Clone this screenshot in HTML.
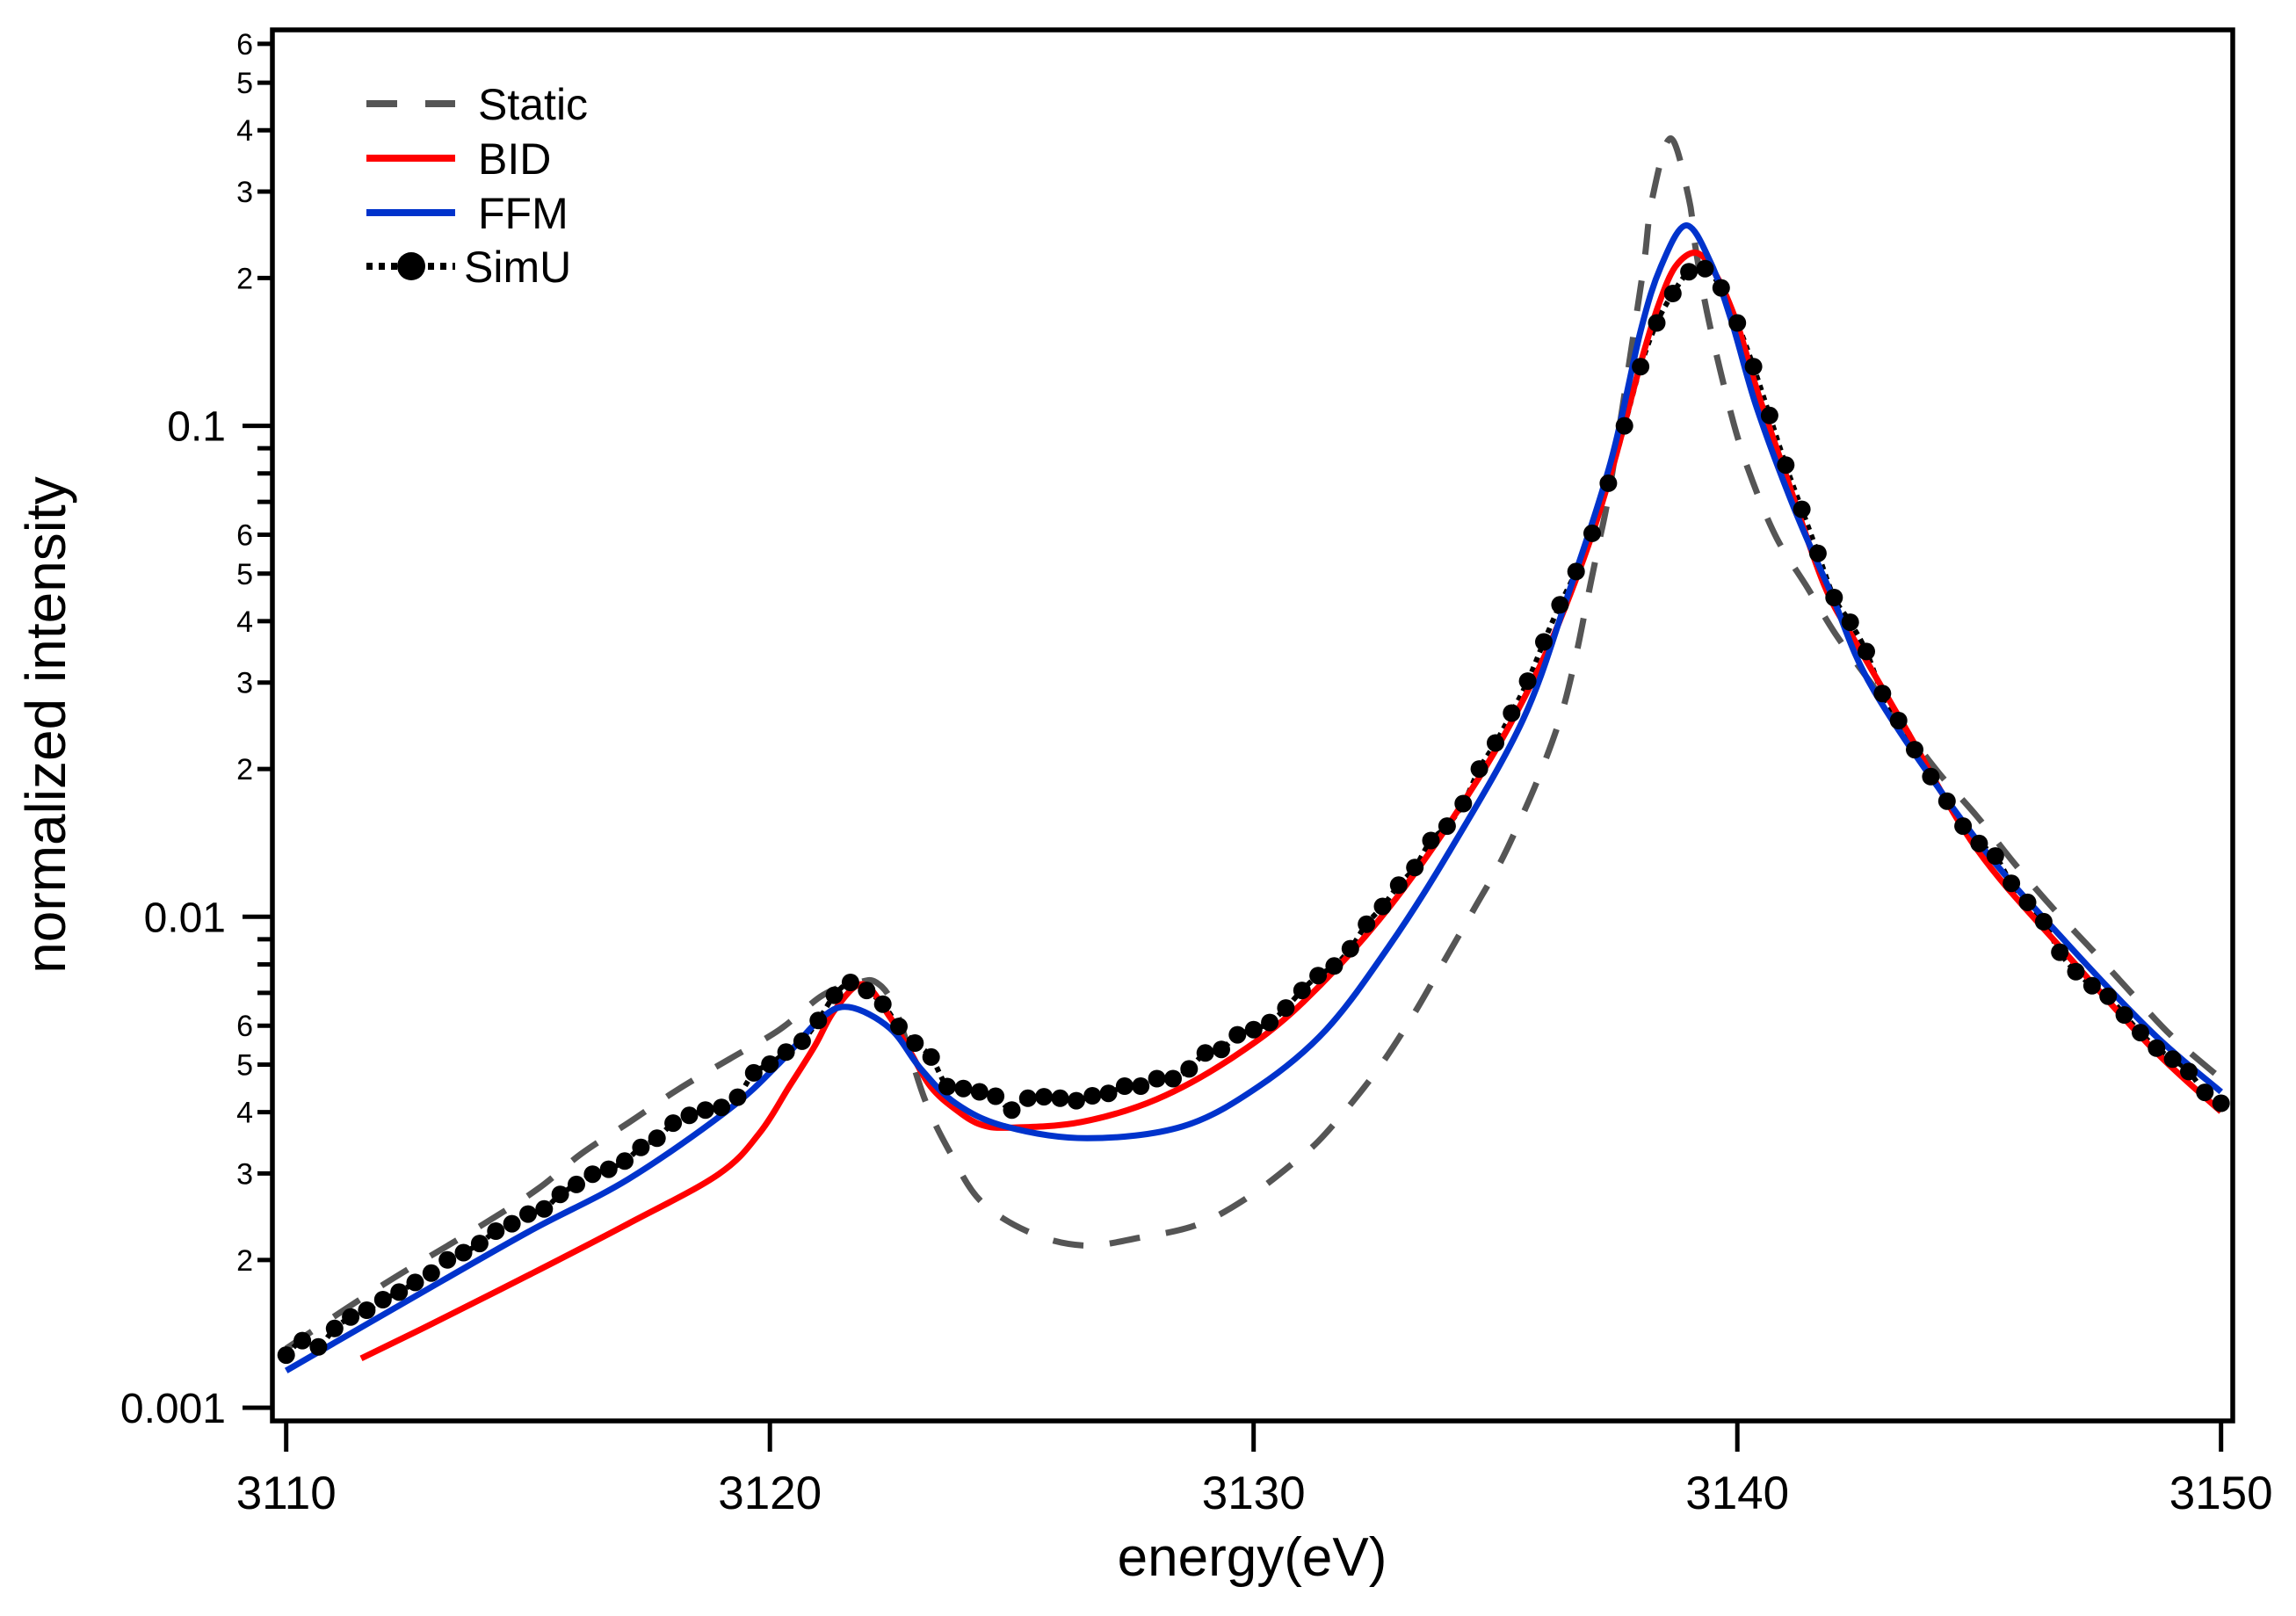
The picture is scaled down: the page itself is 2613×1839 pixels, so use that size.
<!DOCTYPE html>
<html>
<head>
<meta charset="utf-8">
<style>
  html, body { margin: 0; padding: 0; background: #fff; }
  svg { display: block; font-family: "Liberation Sans", sans-serif; }
</style>
</head>
<body>
<svg id="chart" width="2613" height="1839" viewBox="0 0 2613 1839">
  <g id="plot-layer"></g>
  <g id="axis-layer"></g>
  <text x="1425" y="1793" font-size="62" text-anchor="middle" fill="#000">energy(eV)</text>
  <text transform="translate(74,825) rotate(-90)" font-size="64" text-anchor="middle" fill="#000">normalized intensity</text>
  <g id="legend">
    <g>
      <line x1="417" y1="118" x2="518" y2="118" stroke="#555" stroke-width="8" stroke-dasharray="35 32"/>
      <text x="544" y="136" font-size="50">Static</text>
    </g>
    <g>
      <line x1="417" y1="180" x2="518" y2="180" stroke="#ff0000" stroke-width="8"/>
      <text x="544" y="198" font-size="50">BID</text>
    </g>
    <g>
      <line x1="417" y1="242" x2="518" y2="242" stroke="#0033cc" stroke-width="8"/>
      <text x="544" y="260" font-size="50">FFM</text>
    </g>
    <g>
      <line x1="417" y1="303" x2="518" y2="303" stroke="#000" stroke-width="8" stroke-dasharray="7 7"/>
      <circle cx="468" cy="303" r="16" fill="#000"/>
      <text x="528" y="321" font-size="50">SimU</text>
    </g>
  </g>
</svg>
<script>
// ---- data ----
const xTickValues = [3110, 3120, 3130, 3140, 3150];
const yMajorValues = [0.001, 0.01, 0.1];
const yMajorLabels = ["0.001", "0.01", "0.1"];
const yMinorMultipliers = [2, 3, 4, 5, 6, 7, 8, 9];
const yMinorLabeled = [2, 3, 4, 5, 6];

const simuStart = 3110;
const simuStep = 1 / 3;
const simuValues = [
  0.00128,0.00137,0.00133,0.00145,0.00153,0.00158,0.00166,0.00172,0.00180,0.00188,
  0.00200,0.00207,0.00216,0.00229,0.00237,0.00248,0.00254,0.00272,0.00285,0.00299,
  0.00306,0.00318,0.00339,0.00354,0.00380,0.00394,0.00404,0.00409,0.00429,0.00481,
  0.00501,0.00530,0.00558,0.00615,0.00692,0.00735,0.00708,0.00664,0.00598,0.00553,
  0.00518,0.00451,0.00447,0.00440,0.00431,0.00404,0.00427,0.00430,0.00427,0.00422,
  0.00432,0.00437,0.00452,0.00452,0.00468,0.00468,0.00490,0.00528,0.00537,0.00575,
  0.00589,0.00609,0.00652,0.00708,0.00759,0.00794,0.00861,0.00966,0.0105,0.0116,
  0.0126,0.0143,0.0153,0.0170,0.0200,0.0226,0.0260,0.0302,0.0363,0.0432,
  0.0505,0.0604,0.0764,0.100,0.132,0.162,0.186,0.206,0.209,0.191,
  0.162,0.132,0.105,0.0832,0.0676,0.0550,0.0447,0.0398,0.0347,0.0285,
  0.0251,0.0219,0.0193,0.0172,0.0153,0.0141,0.0133,0.0117,0.0107,0.00977,
  0.00847,0.00773,0.00724,0.00689,0.00631,0.00581,0.00540,0.00513,0.00484,0.00439,
  0.00417
];

const bidEnergy = [3111.55,3113,3115,3117.07,3118.94,3119.78,3120.4,3120.93,3121.34,3121.92,3122.48,3122.9,3123.32,3123.84,3124.37,3125.0,3126.44,3128.0,3129.58,3131.03,3132.85,3134.66,3135.88,3136.78,3137.38,3138.0,3138.36,3138.72,3139.16,3139.57,3140.0,3140.41,3141.0,3141.8,3142.5,3143.5,3144.96,3146.78,3148.6,3150];
const bidValues = [0.00126,0.00148,0.00186,0.00237,0.00299,0.00362,0.00451,0.00546,0.00646,0.00729,0.00625,0.00531,0.00451,0.00405,0.00377,0.00372,0.00382,0.00425,0.00518,0.00671,0.0106,0.0192,0.0318,0.0522,0.0796,0.134,0.175,0.211,0.225,0.202,0.161,0.118,0.0796,0.0473,0.0355,0.0240,0.0137,0.00845,0.00537,0.00401];

const ffmEnergy = [3110,3112.5,3115,3117.07,3119.15,3120.2,3121.03,3121.63,3122.48,3123.12,3123.84,3124.87,3126.56,3128.53,3130.1,3131.5,3132.8,3134.05,3135.56,3136.47,3137.38,3138.0,3138.42,3138.94,3139.45,3139.9,3140.4,3141.17,3141.93,3142.84,3144.96,3146.78,3148.6,3150];
const ffmValues = [0.00119,0.00165,0.00228,0.00292,0.00405,0.00504,0.00618,0.00655,0.00593,0.00490,0.00417,0.00374,0.00354,0.00374,0.00451,0.00589,0.00871,0.0136,0.0251,0.0444,0.0843,0.156,0.211,0.256,0.215,0.161,0.109,0.0681,0.0458,0.0287,0.0143,0.00891,0.00578,0.00440];

const staticEnergy = [3110,3112,3114,3115.2,3116.1,3117.1,3118.1,3119.16,3120.2,3121.1,3121.8,3122.2,3122.6,3123.2,3123.74,3124.37,3125.4,3126.5,3127.64,3128.84,3129.9,3130.9,3131.5,3132.5,3133.3,3134.0,3134.55,3135.1,3135.57,3135.97,3136.37,3136.66,3136.9,3137.14,3137.38,3137.93,3138.09,3138.24,3138.62,3139.0,3139.14,3139.42,3139.93,3140.32,3140.82,3141.45,3142.02,3142.66,3143.5,3144.19,3144.96,3145.74,3146.53,3147.35,3148.16,3149.0,3150];
const staticValues = [0.00132,0.00178,0.00234,0.00279,0.00329,0.00382,0.00445,0.00513,0.00589,0.00693,0.00733,0.00735,0.00646,0.00425,0.00329,0.00263,0.00227,0.00214,0.00222,0.00236,0.00269,0.00320,0.00363,0.00479,0.00631,0.00832,0.01035,0.0129,0.0162,0.0201,0.0260,0.0339,0.0443,0.0579,0.0764,0.172,0.222,0.290,0.385,0.290,0.229,0.162,0.1007,0.0769,0.0589,0.0468,0.0378,0.0309,0.0239,0.0195,0.0160,0.0128,0.0104,0.00853,0.00697,0.00569,0.00468];

// ---- scales ----
const X0 = 325.7, XPER = 55.05;          // px per eV
const Y01 = 484.6, YDEC = 558.7;         // y of 0.1, px per decade
function xs(e) { return X0 + (e - 3110) * XPER; }
function ys(v) { return Y01 - (Math.log10(v) + 1) * YDEC; }

const NS = "http://www.w3.org/2000/svg";
function mk(tag, attrs, parent) {
  const el = document.createElementNS(NS, tag);
  for (const k in attrs) el.setAttribute(k, attrs[k]);
  parent.appendChild(el);
  return el;
}
function smoothPath(pts) {
  let d = "M" + pts[0][0].toFixed(1) + "," + pts[0][1].toFixed(1);
  for (let i = 0; i < pts.length - 1; i++) {
    const p0 = pts[Math.max(0, i - 1)], p1 = pts[i], p2 = pts[i + 1], p3 = pts[Math.min(pts.length - 1, i + 2)];
    const c1x = p1[0] + (p2[0] - p0[0]) / 6, c1y = p1[1] + (p2[1] - p0[1]) / 6;
    const c2x = p2[0] - (p3[0] - p1[0]) / 6, c2y = p2[1] - (p3[1] - p1[1]) / 6;
    d += " C" + c1x.toFixed(1) + "," + c1y.toFixed(1) + " " + c2x.toFixed(1) + "," + c2y.toFixed(1) + " " + p2[0].toFixed(1) + "," + p2[1].toFixed(1);
  }
  return d;
}

const svg = document.getElementById("chart");
const plot = document.getElementById("plot-layer");
const axisG = document.getElementById("axis-layer");

const defs = mk("defs", {}, svg);
const cp = mk("clipPath", { id: "clip" }, defs);
mk("rect", { x: 310, y: 34, width: 2231, height: 1583 }, cp);
plot.setAttribute("clip-path", "url(#clip)");

// static
const sp = staticEnergy.map((e, i) => [xs(e), ys(staticValues[i])]);
const staticLine = mk("path", { d: smoothPath(sp), fill: "none", stroke: "#555", "stroke-width": 7, "stroke-dasharray": "35 30" }, plot);



// SimU dotted connector
const su = simuValues.map((v, i) => [xs(simuStart + i * simuStep), ys(v)]);
const simuLine = mk("path", { d: smoothPath(su), fill: "none", stroke: "#000", "stroke-width": 6, "stroke-dasharray": "6 6" }, plot);



// BID
const bp = bidEnergy.map((e, i) => [xs(e), ys(bidValues[i])]);
const bidLine = mk("path", { d: smoothPath(bp), fill: "none", stroke: "#ff0000", "stroke-width": 7 }, plot);



// FFM
const fp = ffmEnergy.map((e, i) => [xs(e), ys(ffmValues[i])]);
const ffmLine = mk("path", { d: smoothPath(fp), fill: "none", stroke: "#0033cc", "stroke-width": 7 }, plot);



// SimU markers
simuValues.forEach((v, i) => {
  const c = mk("circle", { cx: xs(simuStart + i * simuStep).toFixed(1), cy: ys(v).toFixed(1), r: 10, fill: "#000" }, plot);
  
  
});

// frame
const frame = mk("rect", { x: 310, y: 34, width: 2231, height: 1583, fill: "none", stroke: "#000", "stroke-width": 5.5 }, axisG);



// x ticks
xTickValues.forEach(v => {
  const x = xs(v);
  const t = mk("line", { x1: x, y1: 1617, x2: x, y2: 1652, stroke: "#000", "stroke-width": 5 }, axisG);
  
  
  const lb = mk("text", { x: x, y: 1717, "font-size": 53, "text-anchor": "middle", fill: "#000" }, axisG);
  lb.textContent = String(v);
  
  
});

// y ticks
const yTop = 34;
yMajorValues.forEach((v, i) => {
  const y = ys(v);
  const t = mk("line", { x1: 276, y1: y, x2: 310, y2: y, stroke: "#000", "stroke-width": 5 }, axisG);
  
  
  const lb = mk("text", { x: 257, y: y + 17, "font-size": 48, "text-anchor": "end", fill: "#000" }, axisG);
  lb.textContent = yMajorLabels[i];
  
  
  yMinorMultipliers.forEach(m => {
    const mv = v * m;
    const my = ys(mv);
    if (my < yTop) return;
    const mt = mk("line", { x1: 293, y1: my, x2: 310, y2: my, stroke: "#000", "stroke-width": 5 }, axisG);
    
    
    if (yMinorLabeled.indexOf(m) >= 0) {
      const ml = mk("text", { x: 288, y: my + 12, "font-size": 34, "text-anchor": "end", fill: "#000" }, axisG);
      ml.textContent = String(m);
      
      
    }
  });
});
</script>
</body>
</html>
